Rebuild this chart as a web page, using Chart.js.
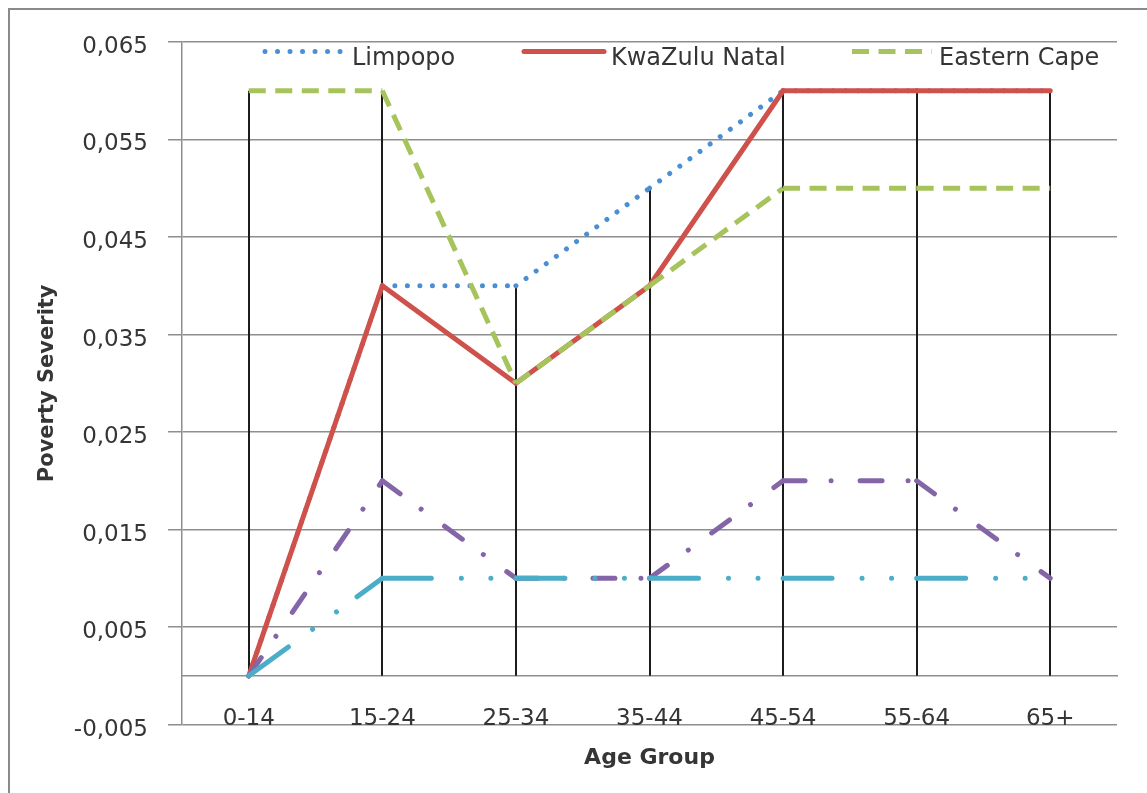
<!DOCTYPE html>
<html>
<head>
<meta charset="utf-8">
<title>Poverty Severity by Age Group</title>
<script src="https://cdn.jsdelivr.net/npm/chart.js@4.4.1/dist/chart.umd.min.js"></script>
<style>
  html, body { margin: 0; padding: 0; background: #ffffff; }
  canvas { display: block; }
</style>
</head>
<body>
<canvas id="chart" width="1147" height="793"></canvas>
<script>
// Age groups on the category axis
const ageGroups = ['0-14', '15-24', '25-34', '35-44', '45-54', '55-64', '65+'];

// Poverty severity per province and age group
const limpopo      = [0.00, 0.04, 0.04, 0.05, 0.06, 0.06, 0.06];
const kwazuluNatal = [0.00, 0.04, 0.03, 0.04, 0.06, 0.06, 0.06];
const easternCape  = [0.06, 0.06, 0.03, 0.04, 0.05, 0.05, 0.05];
const series4      = [0.00, 0.02, 0.01, 0.01, 0.02, 0.02, 0.01];
const series5      = [0.00, 0.01, 0.01, 0.01, 0.01, 0.01, 0.01];

// Value axis tick positions
const yTickValues = [-0.005, 0.005, 0.015, 0.025, 0.035, 0.045, 0.055, 0.065];

const FONT = '"DejaVu Sans", "Open Sans", sans-serif';
const TEXT = '#353535';
const GRID = '#8e8e8e';

// Restart the dash pattern at every data point: giving neighbouring
// segments a slightly different offset makes each one stroke separately.
const restartDash = ctx => (ctx.p0DataIndex % 2 ? 0.001 : 0);

const baseLine = {
  pointRadius: 0,
  pointHoverRadius: 0,
  borderWidth: 5,
  borderJoinStyle: 'round',
  tension: 0,
  fill: false,
  segment: { borderDashOffset: restartDash }
};

const datasets = [
  { label: 'Limpopo',       data: limpopo,      borderColor: '#4a8fd3', borderDash: [0.01, 12.5], borderCapStyle: 'round', order: 5 },
  { label: 'KwaZulu Natal', data: kwazuluNatal, borderColor: '#cf514b', borderCapStyle: 'round', order: 4 },
  { label: 'Eastern Cape',  data: easternCape,  borderColor: '#a6c35c', borderDash: [17, 9.5], borderCapStyle: 'butt', order: 3 },
  { label: 'Series 4',      data: series4,      borderColor: '#8465a8', borderDash: [22, 26, 0.01, 29], borderCapStyle: 'round', order: 2 },
  { label: 'Series 5',      data: series5,      borderColor: '#4badc8', borderDash: [49, 30, 0.01, 29.5, 0.01, 25.5], borderCapStyle: 'round', order: 1 }
].map(d => Object.assign({}, baseLine, d));

// White background and the frame around the chart
const chartFrame = {
  id: 'chartFrame',
  beforeDraw(chart) {
    const c = chart.ctx;
    c.save();
    c.fillStyle = '#ffffff';
    c.fillRect(0, 0, chart.width, chart.height);
    c.strokeStyle = '#8a8a8a';
    c.lineWidth = 2;
    c.strokeRect(9, 9, chart.width + 40, chart.height + 40);
    c.restore();
  }
};

// Vertical drop lines from the zero line up to the highest value of each group
const dropLines = {
  id: 'dropLines',
  beforeDatasetsDraw(chart) {
    const { ctx, scales: { x, y } } = chart;
    const base = y.getPixelForValue(0);
    ctx.save();
    ctx.strokeStyle = '#1c1c1c';
    ctx.lineWidth = 2;
    ageGroups.forEach((g, i) => {
      const top = Math.max(...chart.data.datasets.map(d => d.data[i]));
      const px = Math.round(x.getPixelForValue(i));
      ctx.beginPath();
      ctx.moveTo(px, base);
      ctx.lineTo(px, y.getPixelForValue(top));
      ctx.stroke();
    });
    ctx.restore();
  }
};

// Legend drawn across the top of the plot area for the first three series
const legendSlots = [265, 524, 852];
const legendSample = 80;
const insideLegend = {
  id: 'insideLegend',
  afterDatasetsDraw(chart) {
    const ctx = chart.ctx;
    const lineY = chart.chartArea.top + 9.5;
    const textY = chart.chartArea.top + 23;
    legendSlots.forEach((x0, i) => {
      const ds = chart.data.datasets[i];
      ctx.save();
      ctx.strokeStyle = ds.borderColor;
      ctx.lineWidth = ds.borderWidth;
      ctx.lineCap = ds.borderCapStyle;
      ctx.setLineDash(ds.borderDash || []);
      ctx.beginPath();
      ctx.moveTo(x0, lineY);
      ctx.lineTo(x0 + legendSample, lineY);
      ctx.stroke();
      ctx.setLineDash([]);
      ctx.fillStyle = TEXT;
      ctx.font = '24px ' + FONT;
      ctx.textBaseline = 'alphabetic';
      ctx.textAlign = 'left';
      ctx.fillText(ds.label, x0 + legendSample + 7, textY);
      ctx.restore();
    });
  }
};

new Chart(document.getElementById('chart'), {
  type: 'line',
  data: { labels: ageGroups, datasets },
  plugins: [chartFrame, dropLines, insideLegend],
  options: {
    responsive: false,
    animation: false,
    devicePixelRatio: 1,
    events: [],
    layout: { padding: { left: 10, right: 30, top: 42, bottom: 22 } },
    plugins: {
      legend: { display: false },
      tooltip: { enabled: false },
      title: {
        display: true,
        text: 'Age Group',
        position: 'bottom',
        fullSize: false,
        color: TEXT,
        font: { family: FONT, size: 22, weight: 'bold' },
        padding: { top: 20, bottom: 0 }
      }
    },
    scales: {
      x: {
        type: 'category',
        axis: 'x',
        position: { y: 0 },
        offset: true,
        grid: { display: false, drawTicks: false },
        border: { display: true, color: GRID, width: 1.5 },
        ticks: {
          color: TEXT,
          font: { family: FONT, size: 23 },
          padding: 29,
          maxRotation: 0,
          autoSkip: false
        }
      },
      y: {
        type: 'linear',
        position: 'left',
        min: -0.005,
        max: 0.065,
        afterBuildTicks: scale => { scale.ticks = yTickValues.map(v => ({ value: v })); },
        afterFit: scale => { scale.width = 172; },
        grid: { color: GRID, lineWidth: 1.5, tickLength: 14, drawTicks: true },
        border: { display: true, color: GRID, width: 1.5 },
        ticks: {
          color: TEXT,
          font: { family: FONT, size: 23 },
          padding: 20,
          labelOffset: 5,
          callback: v => v.toFixed(3).replace('.', ',')
        },
        title: {
          display: true,
          text: 'Poverty Severity',
          color: TEXT,
          font: { family: FONT, size: 21, weight: 'bold' },
          padding: { top: 25, bottom: 0 }
        }
      }
    }
  }
});
</script>
</body>
</html>
